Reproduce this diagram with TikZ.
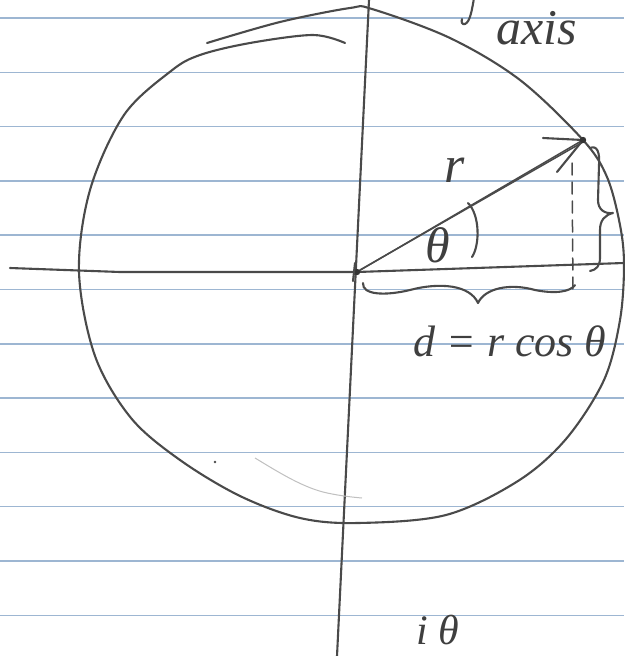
\documentclass[tikz,border=0pt]{standalone}
\usepackage{fontspec}
\newfontfamily\handfont{Liberation Serif}
\definecolor{pencil}{HTML}{4A4A4A}
\definecolor{ruled}{HTML}{9DB6D2}
\tikzset{
  pen/.style={draw=pencil, line width=2.1pt, line cap=round, line join=round},
  thinpen/.style={pen, line width=1.5pt},
  ruleline/.style={draw=ruled, line width=1.5pt},
  hand/.style={text=pencil!85!black, inner sep=0pt},
}
\begin{document}
\begin{tikzpicture}[x=1pt,y=-1pt]
\useasboundingbox (0,0) rectangle (624,656);
\fill[white] (0,0) rectangle (624,656);
% ruled paper
\foreach \k in {0,...,11} \draw[ruleline] (0,{18+54.3*\k}) -- (624,{18+54.3*\k});

% key points
\coordinate (O) at (357,272);
\coordinate (T) at (583,140);
\coordinate (xl) at (10,268);
\coordinate (xm) at (120,272);
\coordinate (xr) at (624,263);
\coordinate (yt) at (369,0);
\coordinate (yb) at (337,656);
\coordinate (ah1) at (543,138);
\coordinate (ah2) at (557,172);
\coordinate (dtop) at (572,163);
\coordinate (dbot) at (573,292);

% axes
\draw[pen] (xl) -- (xm) -- (O) -- (xr);
\draw[pen] (yt) -- (yb);

% circle (hand drawn)
\draw[pen] plot[smooth, tension=0.55] coordinates {(207,43) (280,22) (350,8) (372,9) (450,38) (520,80) (583,140) (607,177) (620,225) (624,265) (620,320) (604,380) (566,439) (518,481) (446,515) (358,523) (300,518) (240,496) (180,460) (131,418) (95,356) (79,272) (90,190) (124,115) (171,71) (200,55) (250,43) (313,35) (345,43)};

% faint stroke and dot inside lower circle
\draw[pencil!35, line width=1pt] (255,458) .. controls (275,470) and (300,486) .. (323,492) .. controls (335,495) and (350,497) .. (362,498);
\fill[pencil] (215,462) circle (1.4pt);

% vector r (drawn twice)
\draw[thinpen] (O) -- (T);
\draw[thinpen] ([shift={(3,-2)}]O) -- ([shift={(0,2)}]T);
\draw[pen] (ah1) -- (T) -- (ah2);
\fill[pencil!70!black] (T) circle (3.2pt);
\fill[pencil!70!black] (O) circle (3.2pt);
\draw[pen] (355,263) -- (353,281);

% dashed projection
\draw[thinpen, dash pattern=on 12pt off 7pt] (dtop) -- (dbot);

% angle arc
\draw[pen] (468,203) .. controls (480,215) and (480,245) .. (472,257);

% right brace
\draw[pen] (590,148) .. controls (597,145) and (600,152) .. (599,165) -- (598,200) .. controls (598,210) and (605,214) .. (613,213) .. controls (605,215) and (600,220) .. (600,230) -- (600,258) .. controls (600,266) and (596,270) .. (590,271);

% bottom brace
\draw[pen] (363,283) .. controls (362,295) and (385,296) .. (410,290) .. controls (440,282) and (470,285) .. (478,303) .. controls (485,288) and (510,283) .. (535,290) .. controls (555,294) and (570,292) .. (575,285);

% descender of the cut-off letter above "axis"
\draw[pen] (474,-2) .. controls (472,10) and (470,22) .. (465,24) .. controls (462,25) and (461,22) .. (462,19);

% labels
\node[hand, font=\handfont\itshape\fontsize{52}{52}\selectfont] (rlab) at (455,170) {r};
\node[hand, font=\handfont\itshape\fontsize{50}{50}\selectfont] (thlab) at (438,245) {θ};
\node[hand, font=\handfont\itshape\fontsize{44}{44}\selectfont, anchor=base] (dlab) at (510,356) {d = r cos θ};
\node[hand, font=\handfont\itshape\fontsize{50}{50}\selectfont, anchor=base] (axis) at (537,44) {axis};
\node[hand, font=\handfont\itshape\fontsize{42}{42}\selectfont, anchor=base west] (ith) at (416,644) {i θ};
\end{tikzpicture}
\end{document}
